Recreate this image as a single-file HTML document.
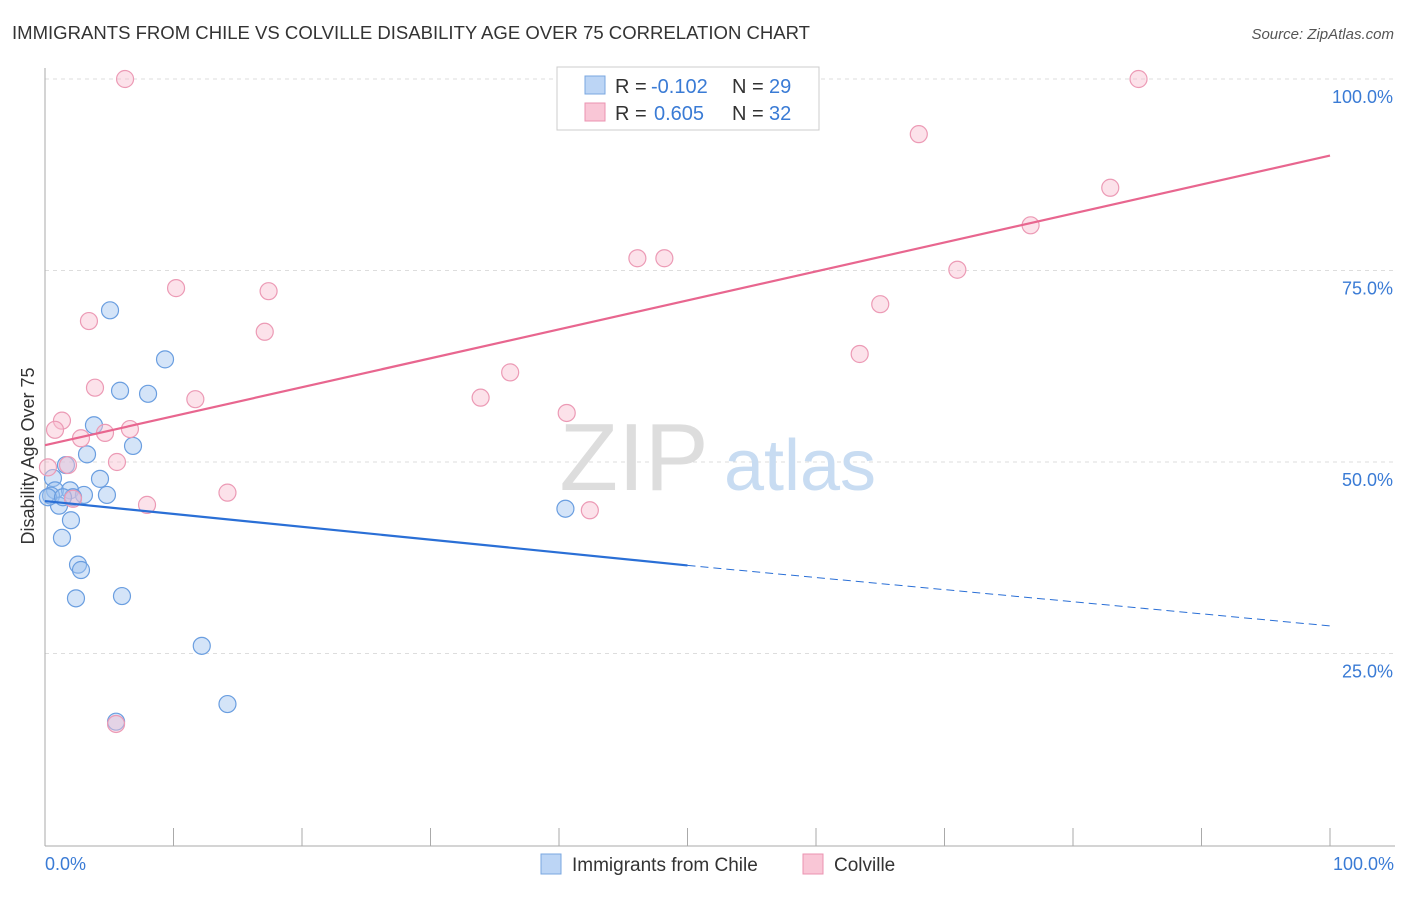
<!DOCTYPE html>
<html><head><meta charset="utf-8"><style>
body{margin:0;background:#fff;font-family:"Liberation Sans",sans-serif;}
svg text{font-family:"Liberation Sans",sans-serif;}
</style></head><body>
<svg id="chart" width="1406" height="892">
<text x="12" y="39" font-size="18" fill="#333" textLength="798" lengthAdjust="spacingAndGlyphs">IMMIGRANTS FROM CHILE VS COLVILLE DISABILITY AGE OVER 75 CORRELATION CHART</text>
<text x="1394" y="39" font-size="15" fill="#555" text-anchor="end" font-style="italic">Source: ZipAtlas.com</text>
<g id="grid"></g>
<g><text x="634" y="490" font-size="96" fill="#ddd" font-family="Liberation Serif" text-anchor="middle">ZIP</text><text x="800" y="490" font-size="72" fill="#c8dcf2" text-anchor="middle">atlas</text></g>
<line x1="45" y1="68" x2="45" y2="846" stroke="#aaa"/>
<line x1="45" y1="846" x2="1395" y2="846" stroke="#aaa"/>
<text transform="translate(34,456) rotate(-90)" font-size="18" fill="#333" text-anchor="middle">Disability Age Over 75</text>
<text x="45" y="870" font-size="18" fill="#3a7bd5">0.0%</text>
<text x="1394" y="870" font-size="18" fill="#3a7bd5" text-anchor="end">100.0%</text>
<g id="marks"></g>
<g>
<rect x="557" y="67" width="262" height="63" fill="#fff" stroke="#ccc"/>
<rect x="585" y="76" width="20" height="18" fill="#bcd5f5" stroke="#7aa7e0"/>
<rect x="585" y="103" width="20" height="18" fill="#f9c6d6" stroke="#eb93b0"/>
<text x="615" y="93" font-size="20" fill="#333">R =</text><text x="651" y="93" font-size="20" fill="#3a7bd5">-0.102</text><text x="732" y="93" font-size="20" fill="#333">N =</text><text x="769" y="93" font-size="20" fill="#3a7bd5">29</text>
<text x="615" y="120" font-size="20" fill="#333">R =</text><text x="654" y="120" font-size="20" fill="#3a7bd5">0.605</text><text x="732" y="120" font-size="20" fill="#333">N =</text><text x="769" y="120" font-size="20" fill="#3a7bd5">32</text>
</g>
<g>
<rect x="541" y="854" width="20" height="20" fill="#bcd5f5" stroke="#7aa7e0"/>
<text x="572" y="871" font-size="19" fill="#333">Immigrants from Chile</text>
<rect x="803" y="854" width="20" height="20" fill="#f9c6d6" stroke="#eb93b0"/>
<text x="834" y="871" font-size="19" fill="#333">Colville</text>
</g>
</svg>
<script>
const yTicks=[25,50,75,100];
const yTickLabels=["25.0%","50.0%","75.0%","100.0%"];
const xTicks=[0,10,20,30,40,50,60,70,80,90,100];
const blueX=[5.06,9.34,5.84,8.02,3.81,6.85,3.27,1.63,0.62,4.28,0.78,1.95,0.47,3.03,4.82,2.18,1.09,2.02,1.32,2.57,2.8,2.41,5.99,12.2,14.2,5.53,40.5,0.23,1.4];
const blueY=[69.8,63.4,59.3,58.9,54.8,52.1,51.0,49.6,47.9,47.8,46.3,46.3,45.6,45.7,45.7,45.4,44.3,42.4,40.1,36.6,35.9,32.2,32.5,26.0,18.4,16.1,43.9,45.4,45.4];
const pinkX=[6.23,85.1,68.0,82.9,76.7,46.1,48.2,71.0,10.2,17.4,3.42,17.1,65.0,63.4,36.2,3.89,11.7,33.9,40.6,1.32,0.78,6.61,4.67,2.8,1.79,5.6,0.23,2.18,14.2,7.94,42.4,5.53];
const pinkY=[100,100,92.8,85.8,80.9,76.6,76.6,75.1,72.7,72.3,68.4,67.0,70.6,64.1,61.7,59.7,58.2,58.4,56.4,55.4,54.2,54.3,53.8,53.1,49.6,50.0,49.3,45.2,46.0,44.4,43.7,15.8];
const blueTrend=[44.9,36.5,28.6];
const pinkTrend=[52.2,90.0];
const X=v=>45+v*12.85, Y=v=>845-v*7.66;
const NS="http://www.w3.org/2000/svg";
function mk(t,a,p){const e=document.createElementNS(NS,t);for(const k in a)e.setAttribute(k,a[k]);p.appendChild(e);return e;}
const g=document.getElementById('grid'), m=document.getElementById('marks');
yTicks.forEach((t,i)=>{
 const l=mk('line',{x1:45,x2:1395,y1:Y(t),y2:Y(t),stroke:'#ddd','stroke-dasharray':'4,4'},g);
 
 
 const tx=mk('text',{x:1393,y:Y(t)+24,'font-size':18,fill:'#3a7bd5','text-anchor':'end'},g);
 tx.textContent=yTickLabels[i];
 
 
});
xTicks.forEach(t=>{
 const l=mk('line',{x1:X(t),x2:X(t),y1:828,y2:846,stroke:'#aaa'},g);
 
 
});
blueX.forEach((x,i)=>{
 const c=mk('circle',{cx:X(x),cy:Y(blueY[i]),r:8.5,fill:'rgba(160,196,240,0.45)',stroke:'#6a9ee0','stroke-width':1.2},m);
 
 
});
pinkX.forEach((x,i)=>{
 const c=mk('circle',{cx:X(x),cy:Y(pinkY[i]),r:8.5,fill:'rgba(248,190,208,0.45)',stroke:'#ec9ab5','stroke-width':1.2},m);
 
 
});
let l1=mk('line',{x1:X(0),y1:Y(blueTrend[0]),x2:X(50),y2:Y(blueTrend[1]),stroke:'#2a6fd6','stroke-width':2.2},m);


let l2=mk('line',{x1:X(50),y1:Y(blueTrend[1]),x2:X(100),y2:Y(blueTrend[2]),stroke:'#2a6fd6','stroke-width':1,'stroke-dasharray':'8,5'},m);


let l3=mk('line',{x1:X(0),y1:Y(pinkTrend[0]),x2:X(100),y2:Y(pinkTrend[1]),stroke:'#e8668f','stroke-width':2.2},m);


</script>
</body></html>
